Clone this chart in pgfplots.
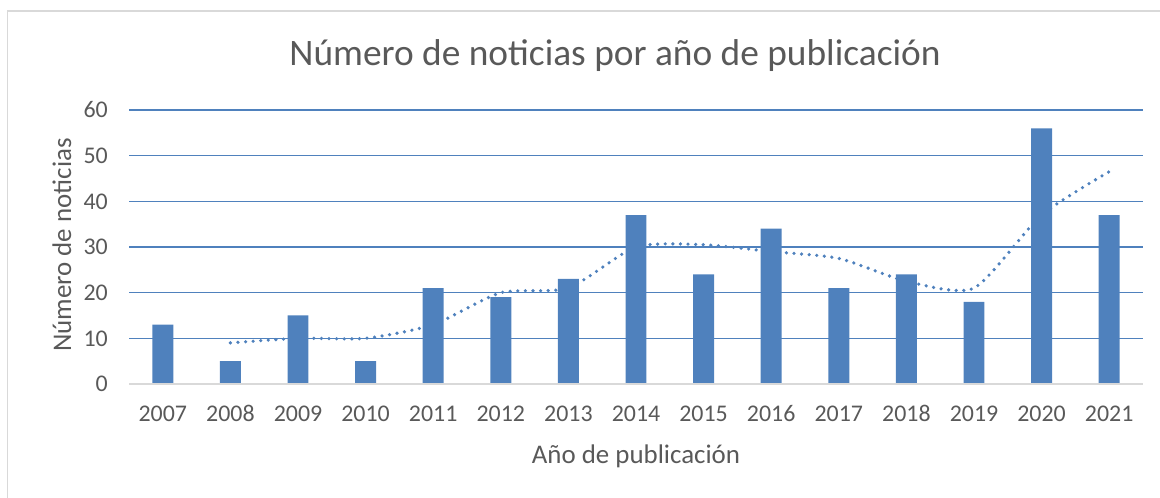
\documentclass[border=0pt]{standalone}
\usepackage{fontspec}
\setmainfont{Carlito}
\usepackage{pgfplots}
\pgfplotsset{compat=1.18}
\definecolor{barblue}{RGB}{79,129,189}
\definecolor{gridblue}{RGB}{79,129,189}
\definecolor{txt}{RGB}{89,89,89}
\definecolor{frame}{RGB}{217,217,217}
\begin{document}
\begin{tikzpicture}[x=1bp,y=1bp]
\useasboundingbox (0,0) rectangle (1160,498);
\draw[frame, line width=1.5bp] (7.5,-30) rectangle (1200,487);
\node[txt, font=\fontsize{37.5}{37.5}\selectfont] at (615,442) {Número de noticias por año de publicación};
\node[txt, font=\fontsize{27}{27}\selectfont] at (636,42) {Año de publicación};
\node[txt, font=\fontsize{27}{27}\selectfont, rotate=90] at (62,253) {Número de noticias};
\begin{axis}[
  at={(129bp,114bp)}, anchor=south west,
  scale only axis, width=1014bp, height=274bp,
  xmin=-0.5, xmax=14.5, ymin=0, ymax=60,
  ytick={0,10,20,30,40,50,60},
  xtick={0,1,2,3,4,5,6,7,8,9,10,11,12,13,14},
  xticklabels={2007,2008,2009,2010,2011,2012,2013,2014,2015,2016,2017,2018,2019,2020,2021},
  axis line style={draw=none},
  major tick length=0pt,
  ymajorgrids, grid style={gridblue, line width=1.5bp},
  /pgf/number format/assume math mode=true,
  ticklabel style={txt, font=\fontsize{24}{24}\selectfont},
  xticklabel style={anchor=base, yshift=-38bp},
  yticklabel style={anchor=east, inner sep=0pt, xshift=-21bp},
  clip=false,
]
\addplot[ybar, bar width=0.31, fill=barblue, draw=none] coordinates {
(0,13) (1,5) (2,15) (3,5) (4,21) (5,19) (6,23) (7,37) (8,24) (9,34) (10,21) (11,24) (12,18) (13,56) (14,37)};
\addplot[barblue, line width=3.6bp, line cap=round, dash pattern=on 0bp off 7.6bp, smooth, tension=0.4] coordinates {
(1,9) (2,10) (3,10) (4,13) (5,20) (6,21) (7,30) (8,30.5) (9,29) (10,27.5) (11,22.5) (12,21) (13,37) (14,46.5)};
\draw[frame, line width=1.5bp] (axis cs:-0.5,0) -- (axis cs:14.5,0);
\end{axis}
\end{tikzpicture}
\end{document}
